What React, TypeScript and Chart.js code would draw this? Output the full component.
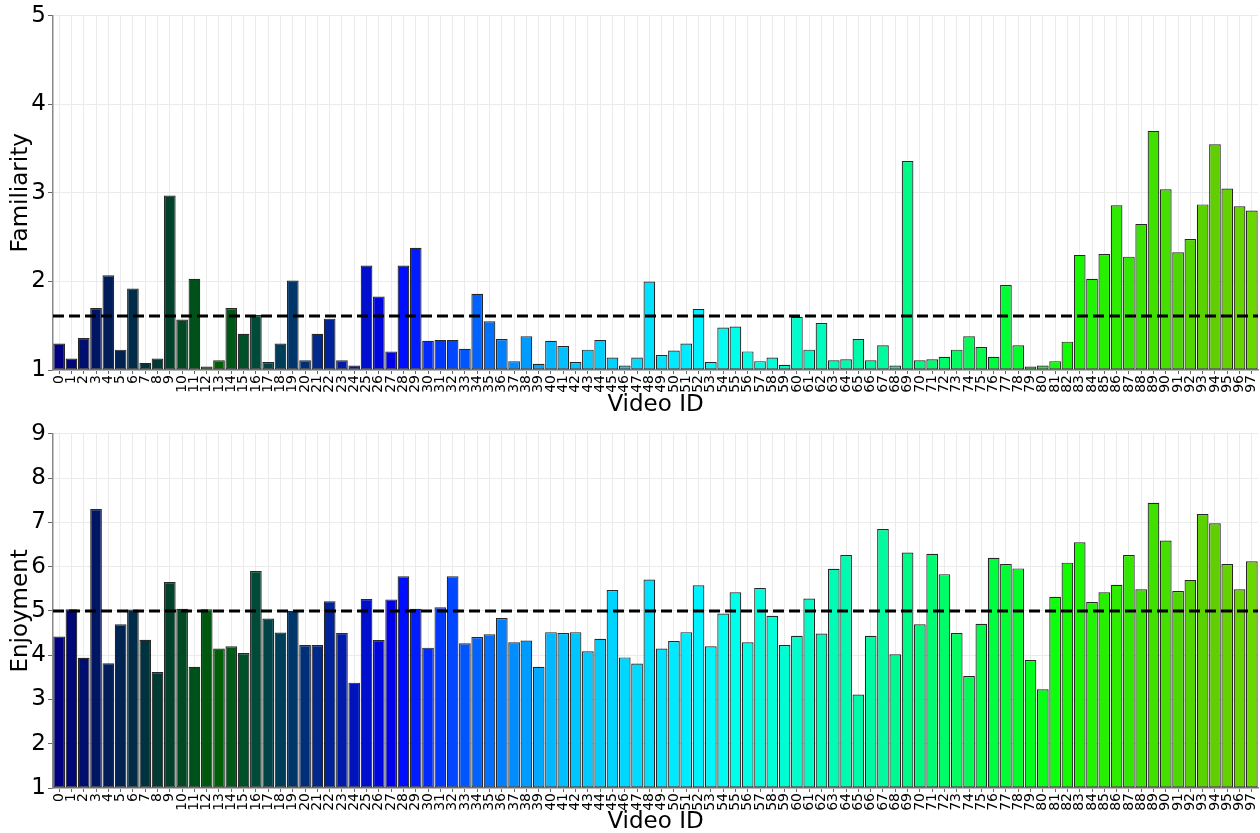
import React, { useEffect, useRef } from "react";
import { Chart, registerables } from "chart.js";

Chart.register(...registerables);

const VIDEO_IDS = [
  "0","1","2","3","4","5","6","7","8","9","10","11","12","13","14","15","16","17","18","19",
  "20","21","22","23","24","25","26","27","28","29","30","31","32","33","34","35","36","37","38","39",
  "40","41","42","43","44","45","46","47","48","49","50","51","52","53","54","55","56","57","58","59",
  "60","61","62","63","64","65","66","67","68","69","70","71","72","73","74","75","76","77","78","79",
  "80","81","82","83","84","85","86","87","88","89","90","91","92","93","94","95","96","97",
];

const FAMILIARITY = [
  1.30, 1.13, 1.36, 1.70, 2.07, 1.23, 1.92, 1.08, 1.13, 2.97,
  1.57, 2.03, 1.04, 1.11, 1.70, 1.41, 1.62, 1.09, 1.30, 2.01,
  1.11, 1.41, 1.58, 1.11, 1.05, 2.18, 1.83, 1.21, 2.18, 2.38,
  1.33, 1.34, 1.34, 1.24, 1.86, 1.55, 1.35, 1.10, 1.38, 1.07,
  1.33, 1.27, 1.09, 1.23, 1.34, 1.14, 1.05, 1.14, 2.00, 1.17,
  1.22, 1.30, 1.69, 1.09, 1.48, 1.49, 1.21, 1.10, 1.14, 1.06,
  1.60, 1.23, 1.53, 1.11, 1.12, 1.35, 1.11, 1.28, 1.05, 3.36,
  1.11, 1.12, 1.15, 1.23, 1.38, 1.26, 1.15, 1.96, 1.28, 1.04,
  1.05, 1.10, 1.32, 2.30, 2.03, 2.31, 2.86, 2.28, 2.65, 3.70,
  3.04, 2.33, 2.48, 2.87, 3.55, 3.05, 2.85, 2.80,
];

const ENJOYMENT = [
  4.42, 5.04, 3.94, 7.30, 3.82, 4.70, 5.03, 4.35, 3.62, 5.65,
  5.05, 3.74, 5.04, 4.15, 4.20, 4.05, 5.90, 4.83, 4.51, 5.00,
  4.23, 4.23, 5.22, 4.50, 3.38, 5.27, 4.34, 5.26, 5.78, 5.05,
  4.17, 5.08, 5.78, 4.27, 4.41, 4.47, 4.84, 4.29, 4.33, 3.74,
  4.52, 4.50, 4.52, 4.09, 4.37, 5.47, 3.95, 3.81, 5.71, 4.15,
  4.32, 4.52, 5.58, 4.20, 4.94, 5.42, 4.29, 5.52, 4.89, 4.23,
  4.44, 5.28, 4.49, 5.95, 6.26, 3.11, 4.44, 6.85, 4.02, 6.32,
  4.70, 6.29, 5.83, 4.50, 3.53, 4.71, 6.20, 6.06, 5.96, 3.89,
  3.23, 5.32, 6.09, 6.55, 5.20, 5.42, 5.59, 6.26, 5.49, 7.44,
  6.59, 5.45, 5.70, 7.19, 6.98, 6.06, 5.49, 6.12,
];

const FAMILIARITY_MEAN = 1.61;
const ENJOYMENT_MEAN = 5.0;

const FAMILIARITY_TICKS = [1, 2, 3, 4, 5];
const ENJOYMENT_TICKS = [1, 2, 3, 4, 5, 6, 7, 8, 9];

// gist_ncar colormap segments (style only)
const NCAR_RED: [number, number][] = [
  [0.0, 0.0], [0.3098, 0.0], [0.3725, 0.3993], [0.4235, 0.5003], [0.5333, 1.0], [1.0, 1.0],
];
const NCAR_GREEN: [number, number][] = [
  [0.0, 0.0], [0.051, 0.3722], [0.1059, 0.0], [0.1569, 0.7202], [0.1608, 0.7537], [0.1647, 0.7752],
  [0.2157, 1.0], [0.2588, 0.9804], [0.2706, 0.9804], [0.3176, 1.0], [0.3686, 0.8081], [0.4275, 1.0], [1.0, 1.0],
];
const NCAR_BLUE: [number, number][] = [
  [0.0, 0.502], [0.051, 0.0222], [0.1098, 1.0], [0.2039, 1.0], [0.2627, 0.6145], [0.3216, 0.0], [1.0, 0.0],
];

function seg(stops: [number, number][], t: number) {
  for (let i = 1; i < stops.length; i++) {
    if (t <= stops[i][0]) {
      const [x0, y0] = stops[i - 1];
      const [x1, y1] = stops[i];
      const f = x1 === x0 ? 0 : (t - x0) / (x1 - x0);
      return y0 + (y1 - y0) * f;
    }
  }
  return stops[stops.length - 1][1];
}

function ncar(i: number) {
  const t = i / 255;
  const r = Math.round(seg(NCAR_RED, t) * 255);
  const g = Math.round(seg(NCAR_GREEN, t) * 255);
  const b = Math.round(seg(NCAR_BLUE, t) * 255);
  return `rgb(${r},${g},${b})`;
}

const BAR_COLORS = VIDEO_IDS.map((_, i) => ncar(i));

const FONT = "'DejaVu Sans', sans-serif";

function meanLinePlugin(value: number) {
  return {
    id: "meanLine",
    afterDatasetsDraw(chart: any) {
      const { ctx, chartArea, scales } = chart;
      const y = scales.y.getPixelForValue(value);
      ctx.save();
      ctx.beginPath();
      ctx.setLineDash([11, 5]);
      ctx.lineWidth = 3;
      ctx.strokeStyle = "#000";
      ctx.moveTo(chartArea.left, y);
      ctx.lineTo(chartArea.right, y);
      ctx.stroke();
      ctx.restore();
    },
  };
}

type PanelProps = {
  values: number[];
  ticks: number[];
  yTitle: string;
  refValue: number;
  height: number;
  xAxisHeight: number;
  titleShift: number;
};

function BarPanel({ values, ticks, yTitle, refValue, height, xAxisHeight, titleShift }: PanelProps) {
  const ref = useRef<HTMLCanvasElement>(null);
  useEffect(() => {
    if (!ref.current) return;
    const yMin = ticks[0];
    const yMax = ticks[ticks.length - 1];
    const chart = new Chart(ref.current, {
      type: "bar",
      data: {
        labels: VIDEO_IDS,
        datasets: [
          {
            data: values,
            base: yMin,
            backgroundColor: BAR_COLORS,
            borderColor: "rgba(15,15,15,0.9)",
            borderWidth: 1.2,
            borderSkipped: false,
            barPercentage: 0.95,
            categoryPercentage: 1,
          } as any,
        ],
      },
      options: {
        responsive: false,
        animation: false,
        layout: { padding: { top: 15, right: 2, left: 0, bottom: 0 } },
        plugins: { legend: { display: false }, tooltip: { enabled: false } },
        scales: {
          x: {
            offset: true,
            grid: {
              offset: false,
              color: "#ebebeb",
              tickColor: "#666",
              tickLength: 4,
            },
            border: { color: "#888", width: 1.5 },
            ticks: {
              autoSkip: false,
              maxRotation: 90,
              minRotation: 90,
              color: "#000",
              padding: 1,
              font: { family: FONT, size: 14 },
            },
            title: {
              display: true,
              text: "Video ID",
              color: "#000",
              font: { family: FONT, size: 23 },
              padding: { top: 0, bottom: -titleShift },
            },
            afterFit(scale: any) {
              scale.height = xAxisHeight;
              scale.paddingLeft = 0;
              scale.paddingRight = 0;
            },
          },
          y: {
            min: yMin,
            max: yMax,
            afterBuildTicks(scale: any) {
              scale.ticks = ticks.map((v) => ({ value: v }));
            },
            grid: { color: "#ebebeb", tickColor: "#666", tickLength: 5 },
            border: { color: "#888", width: 1.5 },
            ticks: {
              color: "#000",
              padding: 2,
              font: { family: FONT, size: 23 },
            },
            title: {
              display: true,
              text: yTitle,
              color: "#000",
              font: { family: FONT, size: 23 },
              padding: { top: 7, bottom: 0 },
            },
            afterFit(scale: any) {
              scale.width = 53;
            },
          },
        },
      } as any,
      plugins: [meanLinePlugin(refValue)],
    });
    return () => chart.destroy();
  }, [values, ticks, yTitle, refValue, height, xAxisHeight, titleShift]);
  return <canvas ref={ref} width={1260} height={height} style={{ display: "block" }} />;
}

export default function App() {
  return (
    <div style={{ position: "absolute", left: 0, top: 0, width: 1260, height: 833, background: "#fff" }}>
      <BarPanel
        values={FAMILIARITY}
        ticks={FAMILIARITY_TICKS}
        yTitle="Familiarity"
        refValue={FAMILIARITY_MEAN}
        height={418}
        xAxisHeight={48}
        titleShift={1}
      />
      <BarPanel
        values={ENJOYMENT}
        ticks={ENJOYMENT_TICKS}
        yTitle="Enjoyment"
        refValue={ENJOYMENT_MEAN}
        height={415}
        xAxisHeight={45}
        titleShift={3}
      />
    </div>
  );
}
